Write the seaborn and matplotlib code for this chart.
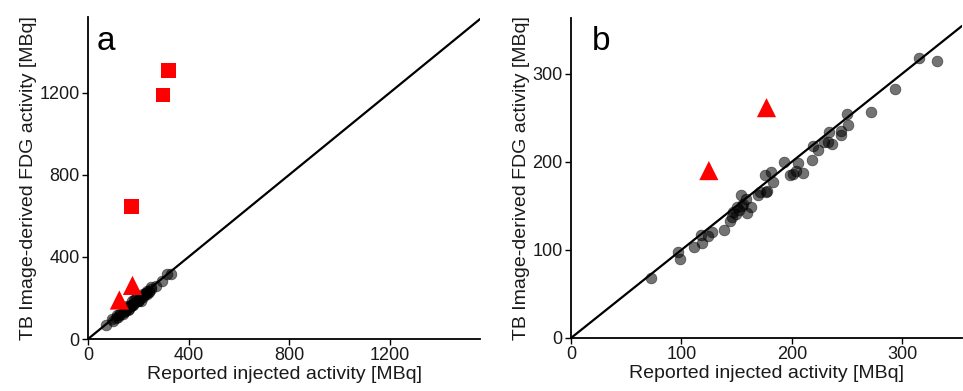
import matplotlib
matplotlib.use("Agg")
import matplotlib.pyplot as plt
import seaborn as sns
import pandas as pd

# Data
reported = [72.4, 96.7, 98.5, 111.8, 117.3, 118.8, 124.2, 127.9, 138.8, 143.9,
            145.5, 149.1, 150.6, 153.6, 156.1, 158.5, 159.7, 163.3, 169.4, 170.9,
            176.4, 177.9, 175.5, 181.5, 183.3, 193.0, 198.5, 200.6, 203.6, 205.8,
            209.7, 218.2, 219.4, 223.3, 229.4, 232.4, 233.9, 236.4, 244.5, 244.5,
            249.7, 251.2, 271.8, 293.0, 315.2, 331.5, 147.0, 152.0, 155.0]
image_derived = [68.3, 97.6, 89.3, 103.7, 116.6, 108.2, 115.8, 120.4, 122.3, 132.9,
                 136.7, 140.5, 148.1, 162.2, 151.9, 157.6, 141.7, 148.1, 162.2, 166.0,
                 165.2, 167.1, 185.0, 188.0, 177.4, 199.4, 185.0, 186.1, 189.9, 198.6,
                 187.2, 202.4, 217.6, 212.7, 222.2, 222.9, 233.6, 219.9, 234.3, 229.8,
                 254.5, 241.9, 256.4, 282.2, 317.9, 314.5, 143.0, 145.0, 150.0]

tri_reported = [124.8, 177.0]
tri_image = [189.9, 261.3]

sq_reported = [173.5, 298.0, 320.5]
sq_image = [646.0, 1190.0, 1309.0]

xlabel = "Reported injected activity [MBq]"
ylabel = "TB Image-derived FDG activity [MBq]"
panel_labels = ["a", "b"]
ticks_a = [0, 400, 800, 1200]
ticks_b = [0, 100, 200, 300]

df_c = pd.DataFrame({"x": reported, "y": image_derived})
df_t = pd.DataFrame({"x": tri_reported, "y": tri_image})
df_s = pd.DataFrame({"x": sq_reported, "y": sq_image})

sns.set_theme(style="ticks")
plt.rcParams["font.family"] = ["Liberation Sans", "DejaVu Sans"]

fig = plt.figure(figsize=(9.63, 3.91), dpi=100)
W, H = 963, 391
ax_a = fig.add_axes([88 / W, 1 - 339 / H, (480 - 88) / W, (339 - 17) / H])
ax_b = fig.add_axes([571 / W, 1 - 338 / H, (962 - 571) / W, (338 - 18) / H])

def style(ax, lim, ticks, label, lpos):
    ax.axline((0, 0), slope=1, color="black", lw=1.6, zorder=1)
    ax.set_xlim(0, lim[0])
    ax.set_ylim(0, lim[1])
    ax.set_xticks(ticks)
    ax.set_yticks(ticks)
    ax.set_xlabel(xlabel, fontsize=14, color="#1a1a1a", labelpad=1)
    ax.set_ylabel(ylabel, fontsize=14, color="#1a1a1a", labelpad=2)
    ax.tick_params(labelsize=13, length=4, width=1, colors="black", pad=2)
    for t in ax.get_xticklabels() + ax.get_yticklabels():
        t.set_color("#1a1a1a")
    for side in ["top", "right"]:
        ax.spines[side].set_visible(False)
    for side in ["left", "bottom"]:
        ax.spines[side].set_linewidth(1.3)
        ax.spines[side].set_color("black")
    ax.text(lpos[0], lpos[1], label, transform=ax.transAxes, fontsize=24,
            va="baseline", ha="left", color="black")

# Panel a
sns.scatterplot(data=df_c, x="x", y="y", ax=ax_a, color="black", alpha=0.55,
                s=60, edgecolor="black", linewidth=0.5, zorder=3, legend=False)
sns.scatterplot(data=df_t, x="x", y="y", ax=ax_a, color="red", marker="^",
                s=190, edgecolor="none", zorder=4, legend=False)
sns.scatterplot(data=df_s, x="x", y="y", ax=ax_a, color="red", marker="s",
                s=105, edgecolor="none", zorder=4, legend=False)
style(ax_a, (1560, 1570), ticks_a, panel_labels[0], (0.022, 0.8975))

# Panel b
sns.scatterplot(data=df_c, x="x", y="y", ax=ax_b, color="black", alpha=0.55,
                s=60, edgecolor="black", linewidth=0.5, zorder=3, legend=False)
sns.scatterplot(data=df_t, x="x", y="y", ax=ax_b, color="red", marker="^",
                s=190, edgecolor="none", zorder=4, legend=False)
style(ax_b, (354, 363), ticks_b, panel_labels[1], (0.053, 0.9))

fig.savefig("out.png", dpi=100)
